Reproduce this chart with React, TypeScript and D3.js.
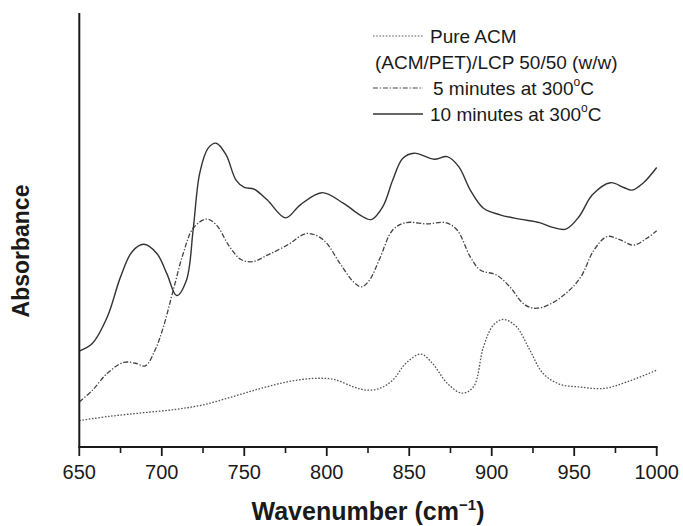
import React from "react";
import * as d3 from "d3";

// Wavenumber (cm^-1) and absorbance (arbitrary units)
const pureWn = [650, 669, 689, 709, 725, 743, 760, 776, 792, 804, 816, 824, 832, 840, 848, 857, 864, 873, 882, 889, 895, 901, 907, 915, 923, 931, 941, 954, 968, 982, 1000];
const pureAbs = [0.061, 0.071, 0.079, 0.087, 0.097, 0.116, 0.135, 0.150, 0.158, 0.156, 0.139, 0.131, 0.135, 0.154, 0.193, 0.214, 0.193, 0.147, 0.124, 0.139, 0.231, 0.281, 0.294, 0.277, 0.224, 0.170, 0.145, 0.138, 0.135, 0.150, 0.177];

const min5Wn = [650, 658, 667, 677, 684, 690, 696, 701, 707, 713, 719, 727, 733, 741, 748, 755, 764, 776, 788, 798, 808, 816, 821, 826, 832, 840, 848, 861, 872, 879, 887, 893, 903, 911, 919, 925, 933, 945, 954, 962, 970, 978, 986, 994, 1000];
const min5Abs = [0.104, 0.131, 0.170, 0.195, 0.193, 0.187, 0.224, 0.277, 0.362, 0.446, 0.504, 0.525, 0.512, 0.462, 0.432, 0.427, 0.442, 0.465, 0.492, 0.477, 0.423, 0.381, 0.369, 0.385, 0.433, 0.500, 0.517, 0.514, 0.517, 0.500, 0.438, 0.408, 0.396, 0.369, 0.331, 0.320, 0.325, 0.354, 0.392, 0.454, 0.485, 0.477, 0.465, 0.481, 0.498];

const min10Wn = [650, 658, 667, 675, 682, 689, 697, 703, 709, 715, 719, 723, 728, 733, 739, 745, 750, 756, 764, 775, 784, 797, 810, 820, 827, 834, 840, 846, 853, 865, 873, 880, 887, 895, 905, 917, 929, 937, 945, 953, 961, 972, 980, 985, 992, 1000];
const min10Abs = [0.221, 0.239, 0.300, 0.392, 0.450, 0.467, 0.446, 0.400, 0.349, 0.385, 0.500, 0.631, 0.688, 0.700, 0.673, 0.615, 0.598, 0.594, 0.569, 0.528, 0.558, 0.586, 0.562, 0.535, 0.524, 0.554, 0.615, 0.665, 0.677, 0.663, 0.669, 0.646, 0.592, 0.550, 0.535, 0.525, 0.517, 0.506, 0.502, 0.531, 0.581, 0.609, 0.598, 0.592, 0.609, 0.644];

const xTicks = [650, 700, 750, 800, 850, 900, 950, 1000];
const xMinorTicks = [675, 725, 775, 825, 875, 925, 975];

const legendLabels = ["Pure ACM", "(ACM/PET)/LCP 50/50 (w/w)", "5 minutes at 300", "10 minutes at 300"];

export default function App() {
  const W = 683, H = 526;
  const x = d3.scaleLinear().domain([650, 1000]).range([79.3, 656.7]);
  const y = d3.scaleLinear().domain([0, 1]).range([447, 13]);
  const line = d3
    .line<[number, number]>()
    .x((d) => x(d[0]))
    .y((d) => y(d[1]))
    .curve(d3.curveCatmullRom.alpha(0.5));
  const zip = (a: number[], b: number[]) => a.map((v, i) => [v, b[i]] as [number, number]);

  const font = "Liberation Sans, Arial, Helvetica, sans-serif";
  const ink = "#1a1a1a";

  return (
    <svg width={W} height={H} style={{ position: "absolute", left: 0, top: 0, background: "#fff" }} fontFamily={font}>
      <rect width={W} height={H} fill="#fff" />
      {/* curves */}
      <path d={line(zip(pureWn, pureAbs)) || ""} fill="none" stroke="#555" strokeWidth={1.3} strokeDasharray="1.6,1.6" />
      <path d={line(zip(min5Wn, min5Abs)) || ""} fill="none" stroke="#444" strokeWidth={1.3} strokeDasharray="5,1.8,1.3,1.8" />
      <path d={line(zip(min10Wn, min10Abs)) || ""} fill="none" stroke="#333" strokeWidth={1.4} />

      {/* axes */}
      <line x1={x(650)} x2={x(650)} y1={y(1)} y2={y(0)} stroke={ink} strokeWidth={2} />
      <line x1={x(650) - 1} x2={x(1000) + 1} y1={y(0)} y2={y(0)} stroke={ink} strokeWidth={2} />
      {xTicks.map((t) => (
        <g key={t}>
          <line x1={x(t)} x2={x(t)} y1={y(0)} y2={y(0) + 9} stroke={ink} strokeWidth={1.8} />
          <text x={x(t)} y={479} textAnchor="middle" fontSize={20} fill={ink}>
            {t}
          </text>
        </g>
      ))}
      {xMinorTicks.map((t) => (
        <line key={t} x1={x(t)} x2={x(t)} y1={y(0)} y2={y(0) + 6} stroke={ink} strokeWidth={1.6} />
      ))}

      {/* axis titles */}
      <text x={368} y={520} textAnchor="middle" fontSize={25} fontWeight="bold" fill={ink}>
        Wavenumber (cm
        <tspan fontSize={15} dy={-10}>−1</tspan>
        <tspan dy={10}>)</tspan>
      </text>
      <text transform="translate(28.5,251) rotate(-90)" textAnchor="middle" fontSize={23} fontWeight="bold" fill={ink}>
        Absorbance
      </text>

      {/* legend */}
      <line x1={373} x2={423} y1={36} y2={36} stroke="#555" strokeWidth={1.2} strokeDasharray="1.6,1.6" />
      <text x={430} y={42.5} fontSize={19} fill={ink}>{legendLabels[0]}</text>
      <text x={375} y={68.5} fontSize={19} fill={ink}>{legendLabels[1]}</text>
      <line x1={373} x2={423} y1={88} y2={88} stroke="#444" strokeWidth={1.2} strokeDasharray="5,1.8,1.3,1.8" />
      <text x={433} y={94.5} fontSize={19} fill={ink}>
        {legendLabels[2]}
        <tspan fontSize={12} dy={-9}>o</tspan>
        <tspan dy={9}>C</tspan>
      </text>
      <line x1={373} x2={423} y1={114} y2={114} stroke="#333" strokeWidth={1.3} />
      <text x={430} y={120.5} fontSize={19} fill={ink}>
        {legendLabels[3]}
        <tspan fontSize={12} dy={-9}>o</tspan>
        <tspan dy={9}>C</tspan>
      </text>
    </svg>
  );
}
